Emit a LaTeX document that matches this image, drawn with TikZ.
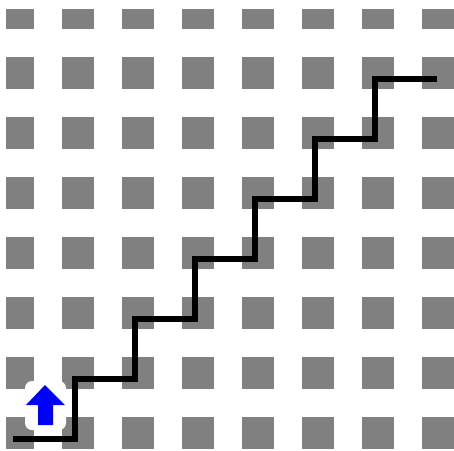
\documentclass[tikz,border=0pt]{standalone}
\usepackage{tikz}
\usetikzlibrary{positioning, calc}
\definecolor{tilegray}{RGB}{128,128,128}
\definecolor{arrowblue}{RGB}{0,0,255}

\begin{document}
\begin{tikzpicture}[
    x=1pt, y=-1pt,
    tile/.style={fill=tilegray},
    halo/.style={fill=white, rounded corners=7pt},
    stairline/.style={line width=5.5pt, black},
    uparrow/.style={fill=arrowblue},
  ]
  \useasboundingbox (0,0) rectangle (454,450);
  % grid of tiles
  \begin{scope}
    \clip (6,9) rectangle (454,450);
    \foreach \i in {0,...,7}
      \foreach \j in {0,...,7}
        \fill[tile] ({2+60*\i},{-3+60*\j}) rectangle ++(32,32);
  \end{scope}
  % white patch behind the arrow
  \fill[halo] (25,381) rectangle (66,430);
  % staircase
  \coordinate (start) at (13,439);
  \coordinate (finish) at (437,79);
  \draw[stairline] (start)
    \foreach \k in {0,...,5} { -- ({75+60*\k},{439-60*\k}) -- ({75+60*\k},{379-60*\k}) }
    -- (finish);
  % start marker
  \fill[uparrow] (45,385) -- (65,405) -- (53,405) -- (53,425)
    -- (38,425) -- (38,405) -- (26,405) -- cycle;
\end{tikzpicture}
\end{document}
